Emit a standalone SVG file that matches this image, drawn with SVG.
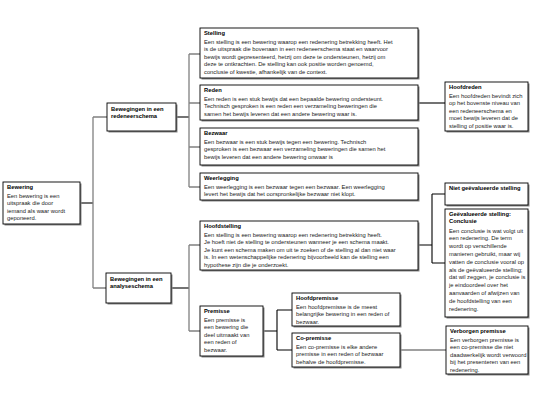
<svg xmlns="http://www.w3.org/2000/svg" width="540" height="405" viewBox="0 0 540 405">
<style>
.bx{fill:#fff;stroke:#000;stroke-width:0.9}
.sh{fill:#888}
.t{font-family:"Liberation Sans",Arial,sans-serif;font-size:5.8px;font-weight:bold;fill:#000}
.b{font-family:"Liberation Sans",Arial,sans-serif;font-size:5.8px;fill:#222}
.c{fill:none;stroke:#808080;stroke-width:1.3}
.k{fill:none;stroke:#000;stroke-width:1.1}
</style>
<rect width="540" height="405" fill="#fff"/>
<g id="connectors">
<path class="k" d="M80,203 H93"/>
<path class="c" d="M93,117 V288 M93,117 H107 M93,288 H106"/>
<path class="k" d="M176,117 H189"/>
<path class="c" d="M189,54 V187 M189,54 H200 M189,103 H200 M189,147 H200 M189,187 H200"/>
<path class="k" d="M418,103 H445"/>
<path class="k" d="M171,288 H189"/>
<path class="c" d="M189,245 V331 M189,245 H200 M189,331 H200"/>
<path class="k" d="M418,245 H432 M432,194 V263 M432,194 H445 M432,263 H445"/>
<path class="k" d="M263,331 H277 M277,310 V350 M277,310 H292 M277,350 H292"/>
<path class="c" d="M400,350 H446"/>
</g>
<g id="bewering">
<rect class="sh" x="4.5" y="183.5" width="77" height="42"/>
<rect class="bx" x="3" y="182" width="77" height="42"/>
<text class="t" x="7" y="189">Bewering</text>
<text class="b" x="7" y="197.5">Een bewering is een</text>
<text class="b" x="7" y="205">uitspraak die door</text>
<text class="b" x="7" y="212.5">iemand als waar wordt</text>
<text class="b" x="7" y="220">geponeerd.</text>
</g>
<g id="redeneerschema">
<rect class="sh" x="108.5" y="104.5" width="69" height="28"/>
<rect class="bx" x="107" y="103" width="69" height="28"/>
<text class="t" x="111" y="111">Bewegingen in een</text>
<text class="t" x="111" y="118">redeneerschema</text>
</g>
<g id="analyseschema">
<rect class="sh" x="107.5" y="274.5" width="65" height="30"/>
<rect class="bx" x="106" y="273" width="65" height="30"/>
<text class="t" x="110" y="281">Bewegingen in een</text>
<text class="t" x="110" y="288">analyseschema</text>
</g>
<g id="stelling">
<rect class="sh" x="201.5" y="29.5" width="218" height="50"/>
<rect class="bx" x="200" y="28" width="218" height="50"/>
<text class="t" x="204" y="35">Stelling</text>
<text class="b" x="204" y="43.5">Een stelling is een bewering waarop een redenering betrekking heeft. Het</text>
<text class="b" x="204" y="51">is de uitspraak die bovenaan in een redeneerschema staat en waarvoor</text>
<text class="b" x="204" y="58.5">bewijs wordt gepresenteerd, hetzij om deze te ondersteunen, hetzij om</text>
<text class="b" x="204" y="66">deze te ontkrachten. De stelling kan ook positie worden genoemd,</text>
<text class="b" x="204" y="73.5">conclusie of kwestie, afhankelijk van de context.</text>
</g>
<g id="reden">
<rect class="sh" x="201.5" y="86.5" width="218" height="35"/>
<rect class="bx" x="200" y="85" width="218" height="35"/>
<text class="t" x="204" y="92">Reden</text>
<text class="b" x="204" y="100.5">Een reden is een stuk bewijs dat een bepaalde bewering ondersteunt.</text>
<text class="b" x="204" y="108">Technisch gesproken is een reden een verzameling beweringen die</text>
<text class="b" x="204" y="115.5">samen het bewijs leveren dat een andere bewering waar is.</text>
</g>
<g id="bezwaar">
<rect class="sh" x="201.5" y="129.5" width="218" height="37"/>
<rect class="bx" x="200" y="128" width="218" height="37"/>
<text class="t" x="204" y="135">Bezwaar</text>
<text class="b" x="204" y="143.5">Een bezwaar is een stuk bewijs tegen een bewering.  Technisch</text>
<text class="b" x="204" y="151">gesproken is een bezwaar een verzameling beweringen die samen het</text>
<text class="b" x="204" y="158.5">bewijs leveren dat een andere bewering onwaar is</text>
</g>
<g id="weerlegging">
<rect class="sh" x="201.5" y="174.5" width="218" height="27"/>
<rect class="bx" x="200" y="173" width="218" height="27"/>
<text class="t" x="204" y="180">Weerlegging</text>
<text class="b" x="204" y="188.5">Een weerlegging is een bezwaar tegen een bezwaar. Een weerlegging</text>
<text class="b" x="204" y="196">levert het bewijs dat het oorspronkelijke bezwaar niet klopt.</text>
</g>
<g id="hoofdreden">
<rect class="sh" x="446.5" y="83.5" width="83" height="49"/>
<rect class="bx" x="445" y="82" width="83" height="49"/>
<text class="t" x="449" y="89">Hoofdreden</text>
<text class="b" x="449" y="97.5">Een hoofdreden bevindt zich</text>
<text class="b" x="449" y="105">op het bovenste niveau van</text>
<text class="b" x="449" y="112.5">een redeneerschema en</text>
<text class="b" x="449" y="120">moet bewijs leveren dat de</text>
<text class="b" x="449" y="127.5">stelling of  positie waar is.</text>
</g>
<g id="hoofdstelling">
<rect class="sh" x="201.5" y="222.5" width="218" height="49"/>
<rect class="bx" x="200" y="221" width="218" height="49"/>
<text class="t" x="204" y="228">Hoofdstelling</text>
<text class="b" x="204" y="236.5">Een stelling is een bewering waarop een redenering betrekking heeft.</text>
<text class="b" x="204" y="244">Je hoeft niet de stelling te ondersteunen wanneer je een schema maakt.</text>
<text class="b" x="204" y="251.5">Je kunt een schema maken om uit te zoeken of de stelling al dan niet waar</text>
<text class="b" x="204" y="259">is. In een wetenschappelijke redenering bijvoorbeeld kan de stelling een</text>
<text class="b" x="204" y="266.5">hypothese zijn die je onderzoekt.</text>
</g>
<g id="niet-geevalueerde-stelling">
<rect class="sh" x="446.5" y="184.5" width="83" height="22"/>
<rect class="bx" x="445" y="183" width="83" height="22"/>
<text class="t" x="449" y="190">Niet geëvalueerde  stelling</text>
</g>
<g id="conclusie">
<rect class="sh" x="446.5" y="210.5" width="83" height="108"/>
<rect class="bx" x="445" y="209" width="83" height="108"/>
<text class="t" x="449" y="216">Geëvalueerde stelling:</text>
<text class="t" x="449" y="223">Conclusie</text>
<text class="b" x="449" y="232.5">Een conclusie is wat volgt uit</text>
<text class="b" x="449" y="240.3">een redenering. De term</text>
<text class="b" x="449" y="248.1">wordt op verschillende</text>
<text class="b" x="449" y="255.9">manieren gebruikt, maar wij</text>
<text class="b" x="449" y="263.7">vatten de conclusie vooral op</text>
<text class="b" x="449" y="271.5">als de geëvalueerde stelling;</text>
<text class="b" x="449" y="279.3">dat wil zeggen, je conclusie is</text>
<text class="b" x="449" y="287.1">je eindoordeel over het</text>
<text class="b" x="449" y="294.9">aanvaarden of afwijzen van</text>
<text class="b" x="449" y="302.7">de hoofdstelling van een</text>
<text class="b" x="449" y="310.5">redenering.</text>
</g>
<g id="premisse">
<rect class="sh" x="201.5" y="307.5" width="63" height="50"/>
<rect class="bx" x="200" y="306" width="63" height="50"/>
<text class="t" x="204" y="313">Premisse</text>
<text class="b" x="204" y="321.5">Een premisse is</text>
<text class="b" x="204" y="329">een bewering die</text>
<text class="b" x="204" y="336.5">deel uitmaakt van</text>
<text class="b" x="204" y="344">een reden of</text>
<text class="b" x="204" y="351.5">bezwaar.</text>
</g>
<g id="hoofdpremisse">
<rect class="sh" x="293.5" y="294.5" width="108" height="33"/>
<rect class="bx" x="292" y="293" width="108" height="33"/>
<text class="t" x="296" y="300">Hoofdpremisse</text>
<text class="b" x="296" y="308.5">Een hoofdpremisse is de meest</text>
<text class="b" x="296" y="316">belangrijke bewering in een reden of</text>
<text class="b" x="296" y="323.5">bezwaar.</text>
</g>
<g id="co-premisse">
<rect class="sh" x="293.5" y="334.5" width="108" height="34"/>
<rect class="bx" x="292" y="333" width="108" height="34"/>
<text class="t" x="296" y="340">Co-premisse</text>
<text class="b" x="296" y="348.5">Een co-premisse is elke andere</text>
<text class="b" x="296" y="356">premisse in een reden of bezwaar</text>
<text class="b" x="296" y="363.5">behalve de hoofdpremisse.</text>
</g>
<g id="verborgen-premisse">
<rect class="sh" x="447.5" y="327.5" width="82" height="48"/>
<rect class="bx" x="446" y="326" width="82" height="48"/>
<text class="t" x="450" y="333">Verborgen premisse</text>
<text class="b" x="450" y="341.5">Een verborgen premisse is</text>
<text class="b" x="450" y="349">een co-premisse die niet</text>
<text class="b" x="450" y="356.5">daadwerkelijk wordt verwoord</text>
<text class="b" x="450" y="364">bij het presenteren van een</text>
<text class="b" x="450" y="371.5">redenering.</text>
</g>
</svg>
